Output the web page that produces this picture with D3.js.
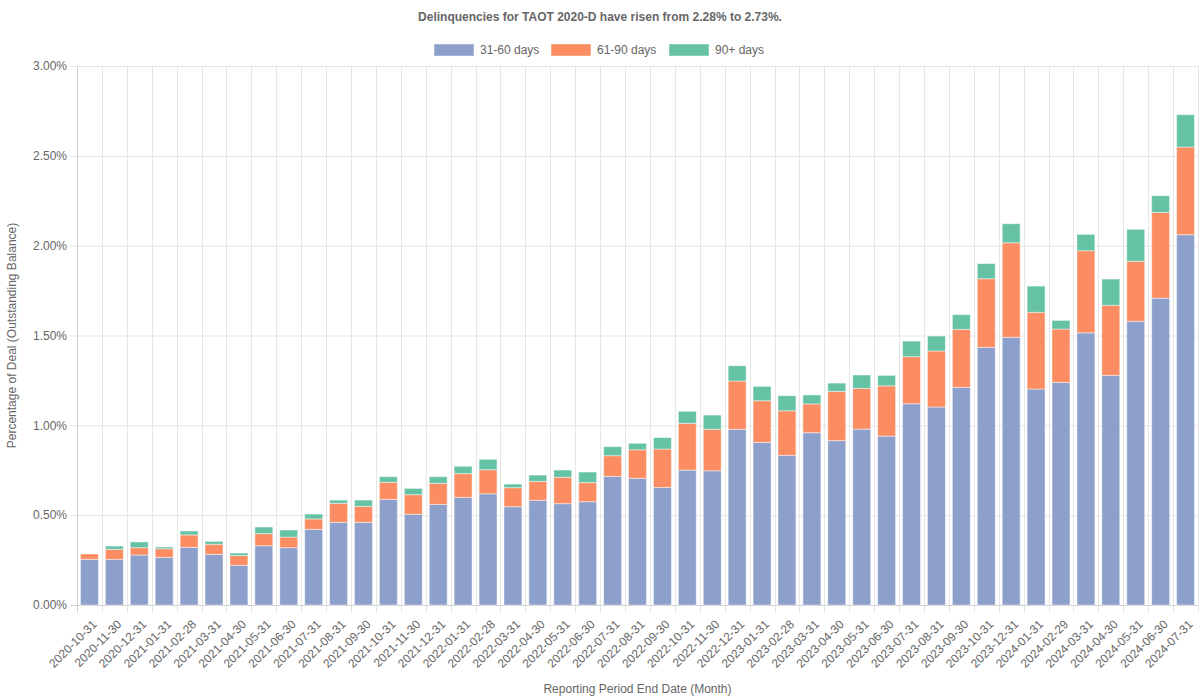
<!DOCTYPE html>
<html><head><meta charset="utf-8">
<script src="https://cdn.jsdelivr.net/npm/d3@7"></script>
<style>body{margin:0;background:#fff}svg{display:block;font-family:"Liberation Sans",Arial,Helvetica,sans-serif}</style>
</head><body><svg id="c" width="1200" height="700"></svg>
<script>
const categories = ["2020-10-31","2020-11-30","2020-12-31","2021-01-31","2021-02-28","2021-03-31","2021-04-30","2021-05-31","2021-06-30","2021-07-31","2021-08-31","2021-09-30","2021-10-31","2021-11-30","2021-12-31","2022-01-31","2022-02-28","2022-03-31","2022-04-30","2022-05-31","2022-06-30","2022-07-31","2022-08-31","2022-09-30","2022-10-31","2022-11-30","2022-12-31","2023-01-31","2023-02-28","2023-03-31","2023-04-30","2023-05-31","2023-06-30","2023-07-31","2023-08-31","2023-09-30","2023-10-31","2023-12-31","2024-01-31","2024-02-29","2024-03-31","2024-04-30","2024-05-31","2024-06-30","2024-07-31"];
const d31_60 = [0.254,0.254,0.278,0.265,0.321,0.282,0.221,0.330,0.319,0.421,0.460,0.460,0.588,0.505,0.560,0.599,0.619,0.547,0.583,0.564,0.575,0.716,0.705,0.654,0.751,0.747,0.978,0.905,0.833,0.959,0.915,0.979,0.940,1.120,1.102,1.211,1.434,1.490,1.202,1.239,1.515,1.278,1.579,1.708,2.061];
const d61_90 = [0.030,0.056,0.041,0.048,0.069,0.056,0.054,0.067,0.059,0.058,0.106,0.089,0.095,0.109,0.117,0.132,0.134,0.106,0.105,0.147,0.106,0.115,0.159,0.214,0.260,0.231,0.269,0.232,0.248,0.160,0.274,0.227,0.280,0.262,0.312,0.323,0.382,0.526,0.427,0.297,0.457,0.390,0.334,0.477,0.488];
const d90p = [0.000,0.018,0.032,0.010,0.022,0.016,0.014,0.037,0.039,0.027,0.018,0.035,0.031,0.035,0.037,0.041,0.058,0.020,0.035,0.040,0.059,0.050,0.036,0.064,0.067,0.079,0.085,0.080,0.084,0.050,0.046,0.074,0.058,0.087,0.083,0.082,0.084,0.106,0.146,0.048,0.091,0.146,0.178,0.093,0.180];
const seriesNames = ["31-60 days","61-90 days","90+ days"];
const seriesColors = ["#8da0cb","#fc8d62","#66c2a5"];
const yTicks = [0,0.5,1.0,1.5,2.0,2.5,3.0];

const svg = d3.select("#c");
const L=77, R=1198, T=66, B=605;
const x = d3.scaleBand().domain(categories).range([L,R]).paddingInner(0).paddingOuter(0);
const y = d3.scaleLinear().domain([0,3]).range([B,T]);
const grid = "#e6e6e6", txt = "#666";

svg.append("g").selectAll("line").data(yTicks).join("line")
  .attr("x1",L-7).attr("x2",R).attr("y1",d=>y(d)+0.5).attr("y2",d=>y(d)+0.5)
  .attr("stroke",grid);
const bounds = categories.map(c=>x(c)).concat([R]);
svg.append("g").selectAll("line").data(bounds).join("line")
  .attr("x1",d=>Math.round(d)+0.5).attr("x2",d=>Math.round(d)+0.5).attr("y1",T).attr("y2",B+8)
  .attr("stroke",grid);
svg.append("line").attr("x1",L+0.5).attr("x2",L+0.5).attr("y1",T).attr("y2",B+8).attr("stroke","#d0d0d0");
svg.append("line").attr("x1",L-7).attr("x2",R).attr("y1",B+0.5).attr("y2",B+0.5).attr("stroke","#d0d0d0");

const rows = categories.map((c,i)=>({cat:c, a:d31_60[i], b:d61_90[i], c:d90p[i]}));
const stack = d3.stack().keys(["a","b","c"])(rows);
const bw = x.bandwidth()*0.72;
svg.append("g").selectAll("g").data(stack).join("g")
  .attr("fill",(d,i)=>seriesColors[i])
  .selectAll("rect").data(d=>d).join("rect")
  .attr("x",d=>x(d.data.cat)+(x.bandwidth()-bw)/2)
  .attr("width",bw)
  .attr("y",d=>y(d[1]))
  .attr("height",d=>Math.max(0,y(d[0])-y(d[1])))
  .attr("stroke","rgba(255,255,255,0.45)").attr("stroke-width",1);

svg.append("g").selectAll("text").data(yTicks).join("text")
  .attr("x",L-10).attr("y",d=>y(d)).attr("dy","0.35em").attr("text-anchor","end")
  .attr("font-size",12).attr("fill",txt).text(d=>d3.format(".2f")(d)+"%");

svg.append("g").selectAll("text").data(categories).join("text")
  .attr("transform",d=>`translate(${x(d)+x.bandwidth()/2+5},${B+17}) rotate(-45)`)
  .attr("text-anchor","end").attr("dy","0.35em")
  .attr("font-size",12).attr("fill",txt).text(d=>d);

svg.append("text").attr("x",(L+R)/2).attr("y",693).attr("text-anchor","middle")
  .attr("font-size",12).attr("fill",txt).text("Reporting Period End Date (Month)");
svg.append("text").attr("transform",`translate(16,${(T+B)/2}) rotate(-90)`).attr("text-anchor","middle")
  .attr("font-size",12).attr("fill",txt).text("Percentage of Deal (Outstanding Balance)");

svg.append("text").attr("x",600).attr("y",21).attr("text-anchor","middle")
  .attr("font-size",12).attr("font-weight","bold").attr("fill",txt)
  .text("Delinquencies for TAOT 2020-D have risen from 2.28% to 2.73%.");

const legX = [434,551,669];
const lg = svg.append("g").selectAll("g").data(seriesNames).join("g")
  .attr("transform",(d,i)=>`translate(${legX[i]},44)`);
lg.append("rect").attr("width",40).attr("height",12).attr("fill",(d,i)=>seriesColors[i])
  .attr("stroke","rgba(255,255,255,0.45)");
lg.append("text").attr("x",46).attr("y",6).attr("dy","0.35em").attr("font-size",12).attr("fill",txt).text(d=>d);
</script></body></html>
